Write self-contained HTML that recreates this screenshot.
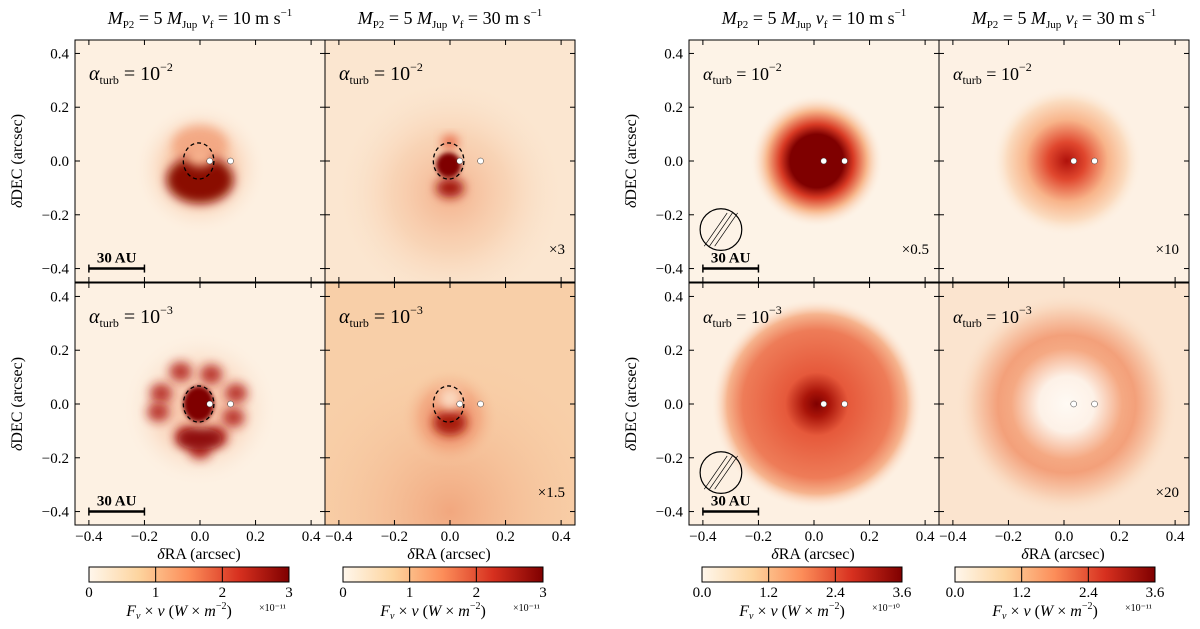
<!DOCTYPE html>
<html><head><meta charset="utf-8"><style>
html,body{margin:0;padding:0;background:#fff;overflow:hidden;}
svg{display:block;font-family:"Liberation Serif",serif;}
</style></head><body>
<svg id="fig" width="1200" height="629" viewBox="0 0 1200 629" xmlns="http://www.w3.org/2000/svg">
<defs>
<filter id="b2" x="-50%" y="-50%" width="200%" height="200%"><feGaussianBlur stdDeviation="2.5"/></filter>
<filter id="b4" x="-50%" y="-50%" width="200%" height="200%"><feGaussianBlur stdDeviation="5"/></filter>
<filter id="b8" x="-50%" y="-50%" width="200%" height="200%"><feGaussianBlur stdDeviation="9"/></filter>
<linearGradient id="cmap" x1="0" x2="1" y1="0" y2="0">
<stop offset="0" stop-color="#fff7ec"/><stop offset="0.25" stop-color="#fdd49e"/><stop offset="0.5" stop-color="#fc8d59"/><stop offset="0.75" stop-color="#d7301f"/><stop offset="1" stop-color="#7f0000"/>
</linearGradient>
</defs>
<g id="root"></g>
</svg>
<script>
const NS='http://www.w3.org/2000/svg';
const tickVals=[-0.4,-0.2,0.0,0.2,0.4];
const tickLabels=['\u22120.4','\u22120.2','0.0','0.2','0.4'];
const planetX=[0.035,0.11];
const cbTicksLeft=['0','1','2','3'];
const cbTicksRight=['0.0','1.2','2.4','3.6'];
const cbExp=['\u00d710\u207b\u00b9\u00b9','\u00d710\u207b\u00b9\u00b9','\u00d710\u207b\u00b9\u2070','\u00d710\u207b\u00b9\u00b9'];
const scaleLabels=['','\u00d73','','\u00d71.5','\u00d70.5','\u00d710','','\u00d720'];
const titles=['10','30','10','30'];
const alphaExp=['\u22122','\u22122','\u22123','\u22123','\u22122','\u22122','\u22123','\u22123'];
const panels=[[75,40],[325,40],[75,283],[325,283],[689,40],[939,40],[689,283],[939,283]];
const W=250,H=242,R=0.45;
const root=document.getElementById('root');
const defs=document.querySelector('defs');
let gid=0;
function el(tag,attrs,parent){const e=document.createElementNS(NS,tag);for(const k in attrs)e.setAttribute(k,attrs[k]);(parent||root).appendChild(e);return e;}
function sx(p,v){return panels[p][0]+W/2+v/R*W/2;}
function sy(p,v){return panels[p][1]+H/2-v/R*H/2;}
function ss(v){return v/R*W/2;}
function grad(p,cx,cy,r,stops){const id='g'+(gid++);const g=el('radialGradient',{id:id,gradientUnits:'userSpaceOnUse',cx:sx(p,cx),cy:sy(p,cy),r:ss(r)},defs);stops.forEach(s=>el('stop',{offset:s[0],'stop-color':s[1],'stop-opacity':s[2]==null?1:s[2]},g));return 'url(#'+id+')';}
function blob(g,p,cx,cy,r,stops){const f=grad(p,cx,cy,r,stops);return el('circle',{cx:sx(p,cx),cy:sy(p,cy),r:ss(r),fill:f},g);}
function spot(g,p,cx,cy,rx,ry,col,filt,op){return el('ellipse',{cx:sx(p,cx),cy:sy(p,cy),rx:ss(rx),ry:ss(ry),fill:col,filter:'url(#'+filt+')',opacity:op==null?1:op},g);}

panels.forEach((pp,p)=>{
  const [x0,y0]=pp;
  const cid='clip'+p;
  const cp=el('clipPath',{id:cid},defs);el('rect',{x:x0,y:y0,width:W,height:H},cp);
  const g=el('g',{'clip-path':'url(#'+cid+')'});
  
  
  const bgc=['#fdf0e1','#fbe6d0','#fdf1e3','#f8cfa8','#fdf3e7','#fdf1e4','#fdf0e2','#fbe4cf'][p];
  el('rect',{x:x0,y:y0,width:W,height:H,fill:bgc},g);
  if(p==0){
    blob(g,p,0,-0.03,0.24,[[0,'#f08a60',0.9],[0.5,'#f7b890',0.6],[1,'#fdf0e1',0]]);
    spot(g,p,0,0.06,0.1,0.07,'#f2a07a','b4',0.8);
    spot(g,p,0,-0.07,0.12,0.085,'#8a0a06','b4');
    spot(g,p,0,0.02,0.05,0.04,'#f6b08c','b4');
  } else if(p==1){
    blob(g,p,0,-0.12,0.42,[[0,'#f2a47c',0.8],[0.5,'#f6c29c',0.5],[1,'#fbe6d0',0]]);
    spot(g,p,0,0.07,0.03,0.025,'#e86a48','b4');
    spot(g,p,0,-0.1,0.05,0.035,'#a3140c','b4');
    spot(g,p,-0.005,-0.015,0.045,0.045,'#7f0000','b2');
  } else if(p==2){
    blob(g,p,0,-0.02,0.28,[[0,'#f4a27c',0.8],[0.6,'#f9d2b8',0.6],[1,'#fdf1e3',0]]);
    [[-0.07,0.12],[0.04,0.11],[-0.14,0.04],[0.13,0.04],[-0.15,-0.03],[0.12,-0.05],[-0.05,-0.12],[0.06,-0.12],[0,-0.17]].forEach(q=>spot(g,p,q[0],q[1],0.04,0.035,'#b01e12','b4',0.85));
    spot(g,p,0,-0.13,0.08,0.04,'#8e0c07','b4');
    spot(g,p,-0.005,0,0.055,0.065,'#7f0000','b2');
  } else if(p==3){
    blob(g,p,0,-0.4,0.6,[[0,'#f0a077',0.85],[1,'#f8cfa8',0]]);
    blob(g,p,0,-0.05,0.18,[[0,'#e76a48',0.9],[0.6,'#f0926a',0.5],[1,'#f8cfa8',0]]);
    spot(g,p,0,-0.07,0.06,0.045,'#a81a0e','b4');
    spot(g,p,0,0.02,0.04,0.04,'#fbd9c0','b4');
  } else if(p==4){
    blob(g,p,0.01,0,0.24,[[0,'#7f0000'],[0.4,'#7f0000'],[0.55,'#d83a24'],[0.75,'#f7b58a'],[1,'#fdf3e7',0]]);
  } else if(p==5){
    blob(g,p,0.01,0,0.27,[[0,'#b0110b'],[0.25,'#e0472e'],[0.55,'#f8b48a'],[0.8,'#fbdcc0'],[1,'#fdf1e4',0]]);
  } else if(p==6){
    blob(g,p,0.01,0,0.38,[[0,'#7f0000'],[0.12,'#a91409'],[0.3,'#e6593b'],[0.7,'#ee7c58'],[0.85,'#f6b48e'],[1,'#fdf0e2',0]]);
  } else {
    blob(g,p,0.01,0,0.4,[[0,'#fffaf4'],[0.25,'#fdf1e7'],[0.5,'#f5a983'],[0.62,'#f3a07a'],[0.85,'#f9d4b9'],[1,'#fbe4cf',0]]);
  }
  if(p<4){const c=el('ellipse',{cx:sx(p,-0.005),cy:sy(p,0),rx:ss(0.055),ry:ss(0.065),fill:'none',stroke:'#000','stroke-width':1.3,'stroke-dasharray':'4,3'});}
  planetX.forEach((v,i)=>{const d=el('circle',{cx:sx(p,v),cy:sy(p,0),r:3,fill:'#fff',stroke:'#333','stroke-width':0.5});});
  const fr=el('rect',{x:x0,y:y0,width:W,height:H,fill:'none',stroke:'#000','stroke-width':1});
  
  tickVals.forEach((v,i)=>{
    el('line',{x1:sx(p,v),x2:sx(p,v),y1:y0,y2:y0+5,stroke:'#000'});
    el('line',{x1:sx(p,v),x2:sx(p,v),y1:y0+H,y2:y0+H-5,stroke:'#000'});
    el('line',{x1:x0,x2:x0+5,y1:sy(p,v),y2:sy(p,v),stroke:'#000'});
    el('line',{x1:x0+W,x2:x0+W-5,y1:sy(p,v),y2:sy(p,v),stroke:'#000'});
    if(p%2==0){const t=el('text',{x:x0-6,y:sy(p,v)+5,'text-anchor':'end','font-size':15});t.textContent=tickLabels[i];}
    if(p==2||p==3||p==6||p==7){const t=el('text',{x:sx(p,v),y:y0+H+16,'text-anchor':'middle','font-size':15});t.textContent=tickLabels[i];}
  });
  const a=el('text',{x:x0+14,y:y0+40,'font-size':p<4?20:18,'font-style':'italic'});
  
  a.innerHTML='\u03b1<tspan font-size="12" font-style="normal" dy="4">turb</tspan><tspan dy="-4" font-style="normal"> = 10</tspan><tspan font-size="12" dy="-9" font-style="normal">'+alphaExp[p]+'</tspan>';
  if(scaleLabels[p]){const s=el('text',{x:x0+W-10,y:y0+H-28,'text-anchor':'end','font-size':15});s.textContent=scaleLabels[p];}
  if(p%2==0){
    const sb=el('g',{});
    el('line',{x1:sx(p,-0.4),x2:sx(p,-0.2),y1:sy(p,-0.4),y2:sy(p,-0.4),stroke:'#000','stroke-width':2.5},sb);
    el('line',{x1:sx(p,-0.4),x2:sx(p,-0.4),y1:sy(p,-0.4)-4,y2:sy(p,-0.4)+4,stroke:'#000','stroke-width':1.5},sb);
    el('line',{x1:sx(p,-0.2),x2:sx(p,-0.2),y1:sy(p,-0.4)-4,y2:sy(p,-0.4)+4,stroke:'#000','stroke-width':1.5},sb);
    const t=el('text',{x:sx(p,-0.3),y:sy(p,-0.4)-6,'text-anchor':'middle','font-size':15,'font-weight':'bold'},sb);t.textContent='30 AU';
    if(p>=4){const bm=el('g',{});
      const cx=sx(p,-0.335),cy=sy(p,-0.255),r=ss(0.075);
      el('circle',{cx:cx,cy:cy,r:r,fill:'none',stroke:'#000','stroke-width':1.2},bm);
      [-0.5,0,0.5].forEach(k=>el('line',{x1:cx-r*0.55+k*r*0.5,y1:cy+r*0.8,x2:cx+r*0.55+k*r*0.5,y2:cy-r*0.8,stroke:'#000','stroke-width':0.7},bm));}
  }
});
[[75,0],[325,1],[689,2],[939,3]].forEach(q=>{
  const t=el('text',{x:q[0]+W/2,y:24,'text-anchor':'middle','font-size':18,'font-style':'italic'});
  
  t.innerHTML='M<tspan font-size="11" dy="4" font-style="normal">P2</tspan><tspan dy="-4" font-style="normal"> = 5 </tspan>M<tspan font-size="11" dy="4" font-style="normal">Jup</tspan><tspan dy="-4"> v</tspan><tspan font-size="11" dy="4" font-style="normal">f</tspan><tspan dy="-4" font-style="normal"> = '+titles[q[1]]+' m s</tspan><tspan font-size="11" dy="-8" font-style="normal">\u22121</tspan>';
});
[[199,0],[449,0],[813,0],[1063,0]].forEach(q=>{const t=el('text',{x:q[0],y:559,'text-anchor':'middle','font-size':16});t.innerHTML='<tspan font-style="italic">\u03b4</tspan>RA (arcsec)';});
[[22,161],[22,404],[636,161],[636,404]].forEach(q=>{const t=el('text',{x:q[0],y:q[1],'text-anchor':'middle','font-size':16,transform:'rotate(-90 '+q[0]+' '+q[1]+')'});t.innerHTML='<tspan font-style="italic">\u03b4</tspan>DEC (arcsec)';});
[[89,cbTicksLeft],[343,cbTicksLeft],[702,cbTicksRight],[955,cbTicksRight]].forEach((q,i)=>{
  const x=q[0],w=200,y=567,h=15;
  const g=el('g',{});
  el('rect',{x:x,y:y,width:w,height:h,fill:'url(#cmap)',stroke:'#000','stroke-width':1},g);
  q[1].forEach((lab,k)=>{const tx=x+w*k/(q[1].length-1);
    if(k>0&&k<q[1].length-1)el('line',{x1:tx,x2:tx,y1:y,y2:y+h,stroke:'#000','stroke-width':1},g);
    const t=el('text',{x:tx,y:y+h+15,'text-anchor':'middle','font-size':15},g);t.textContent=lab;});
  const lt=el('text',{x:x+w/2-10,y:y+h+34,'text-anchor':'middle','font-size':16,'font-style':'italic'},g);
  lt.innerHTML='F<tspan font-size="10" dy="3">\u03bd</tspan><tspan dy="-3" font-style="normal"> \u00d7 </tspan>\u03bd<tspan font-style="normal"> (</tspan>W<tspan font-style="normal"> \u00d7 </tspan>m<tspan font-size="10" dy="-7" font-style="normal">\u22122</tspan><tspan dy="7" font-style="normal">)</tspan>';
  const e=el('text',{x:x+w-30,y:y+h+29,'font-size':10},g);e.textContent=cbExp[i];
});
</script>
</body></html>
